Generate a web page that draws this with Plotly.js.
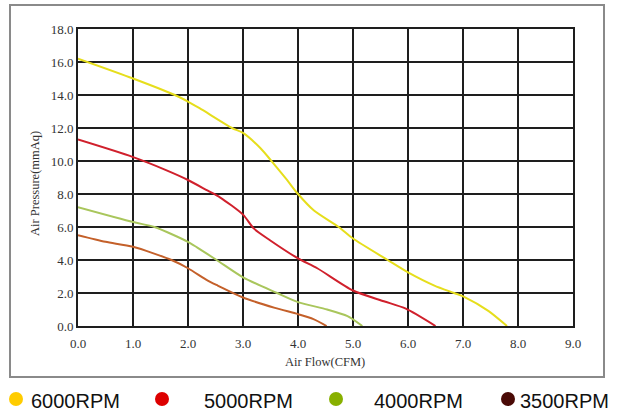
<!DOCTYPE html>
<html><head><meta charset="utf-8">
<script src="https://cdn.plot.ly/plotly-3.0.1.min.js"></script>
<style>html,body{margin:0;padding:0;background:#fff;}#chart{width:619px;height:416px;}</style>
</head><body><div id="chart"></div>
<script>
// Data
const rpm6000_x = [0, 1.0, 1.76, 2.0, 2.21, 2.8, 3.0, 3.31, 3.53, 3.8, 4.0, 4.29, 4.74, 5.0, 5.63, 6.0, 6.48, 6.84, 7.02, 7.46, 7.8];
const rpm6000_y = [16.2, 15.0, 14.0, 13.6, 13.2, 12.0, 11.7, 10.8, 9.95, 8.85, 8.0, 7.0, 6.0, 5.3, 4.0, 3.25, 2.45, 2.0, 1.77, 0.92, 0];
const rpm5000_x = [0, 0.99, 1.6, 2.0, 2.36, 2.58, 3.0, 3.2, 3.49, 4.0, 4.35, 5.0, 5.56, 5.96, 6.5];
const rpm5000_y = [11.3, 10.25, 9.45, 8.85, 8.2, 7.8, 6.75, 5.9, 5.2, 4.1, 3.5, 2.15, 1.5, 1.05, 0];
const rpm4000_x = [0, 1.0, 1.39, 2.0, 2.17, 2.52, 3.0, 3.62, 4.0, 4.53, 4.9, 5.17];
const rpm4000_y = [7.2, 6.3, 6.0, 5.1, 4.75, 4.0, 2.95, 2.0, 1.45, 1.0, 0.6, 0];
const rpm3500_x = [0, 0.5, 1.0, 1.7, 2.0, 2.36, 2.54, 3.0, 3.58, 4.0, 4.28, 4.52];
const rpm3500_y = [5.5, 5.1, 4.8, 4.0, 3.5, 2.75, 2.45, 1.73, 1.1, 0.72, 0.42, 0];
const seriesNames = ['6000RPM', '5000RPM', '4000RPM', '3500RPM'];
const lineColors = ['#e6de1c', '#d0202c', '#a9c65c', '#c4602a'];
const dotColors = ['#ffcc00', '#dd0000', '#88b000', '#4a0a06'];
const xTicks = [0, 1, 2, 3, 4, 5, 6, 7, 8, 9];
const yTicks = [0, 2, 4, 6, 8, 10, 12, 14, 16, 18];

const xs = [rpm6000_x, rpm5000_x, rpm4000_x, rpm3500_x];
const ys = [rpm6000_y, rpm5000_y, rpm4000_y, rpm3500_y];
const traces = xs.map((x, i) => ({
  x: x, y: ys[i], name: seriesNames[i], type: 'scatter', mode: 'lines',
  line: {color: lineColors[i], width: 2, shape: 'spline', smoothing: 0.7},
  showlegend: false, hoverinfo: 'skip'
}));

const W = 619, H = 416, L = 78, R = 46, T = 29, B = 90;
const pw = W - L - R, ph = H - T - B;
const px = v => (v - L) / pw;          // pixel x -> paper
const py = v => (H - B - v) / ph;      // pixel y -> paper

const shapes = [{
  type: 'rect', xref: 'paper', yref: 'paper',
  x0: px(10), x1: px(604), y0: py(377), y1: py(5),
  line: {color: '#8a8a8a', width: 2}, layer: 'below'
}];
const legendDotX = [16, 162, 336, 508];
const legendTextX = [29, 202, 372, 518];
const annotations = [];
seriesNames.forEach((n, i) => {
  shapes.push({type: 'circle', xref: 'paper', yref: 'paper', xsizemode: 'pixel', ysizemode: 'pixel',
    xanchor: px(legendDotX[i]), yanchor: py(399), x0: -7, x1: 7, y0: -7, y1: 7,
    fillcolor: dotColors[i], line: {width: 0}});
  annotations.push({xref: 'paper', yref: 'paper', x: px(legendTextX[i]), y: py(401),
    xanchor: 'left', yanchor: 'middle', showarrow: false, text: n,
    font: {family: 'Liberation Sans, Arial, sans-serif', size: 20, color: '#111'}});
});
const titleFont = {family: 'Liberation Serif, Times New Roman, serif', size: 12.5, color: '#333'};
annotations.push({xref: 'paper', yref: 'paper', x: px(325), y: py(362), xanchor: 'center', yanchor: 'middle',
  showarrow: false, text: 'Air Flow(CFM)', font: titleFont});
annotations.push({xref: 'paper', yref: 'paper', x: px(35), y: py(184), xanchor: 'center', yanchor: 'middle',
  showarrow: false, text: 'Air Pressure(mmAq)', textangle: -90, font: titleFont});

const tickFont = {family: 'Liberation Serif, Times New Roman, serif', size: 13, color: '#333'};
const axisCommon = {showgrid: true, gridcolor: '#1e1e1e', gridwidth: 2, zeroline: false,
  showline: true, linecolor: '#1e1e1e', linewidth: 2, mirror: true, ticks: '',
  tickfont: tickFont, fixedrange: true};
const layout = {
  width: W, height: H, margin: {l: L, r: R, t: T, b: B},
  paper_bgcolor: '#fff', plot_bgcolor: '#fff',
  xaxis: Object.assign({range: [0, 9], tickvals: xTicks, ticktext: xTicks.map(v => v.toFixed(1)), ticklabelstandoff: 4}, axisCommon),
  yaxis: Object.assign({range: [0, 18], tickvals: yTicks, ticktext: yTicks.map(v => v.toFixed(1))}, axisCommon),
  shapes: shapes, annotations: annotations, showlegend: false
};
Plotly.newPlot('chart', traces, layout, {staticPlot: true, displayModeBar: false});
</script></body></html>
